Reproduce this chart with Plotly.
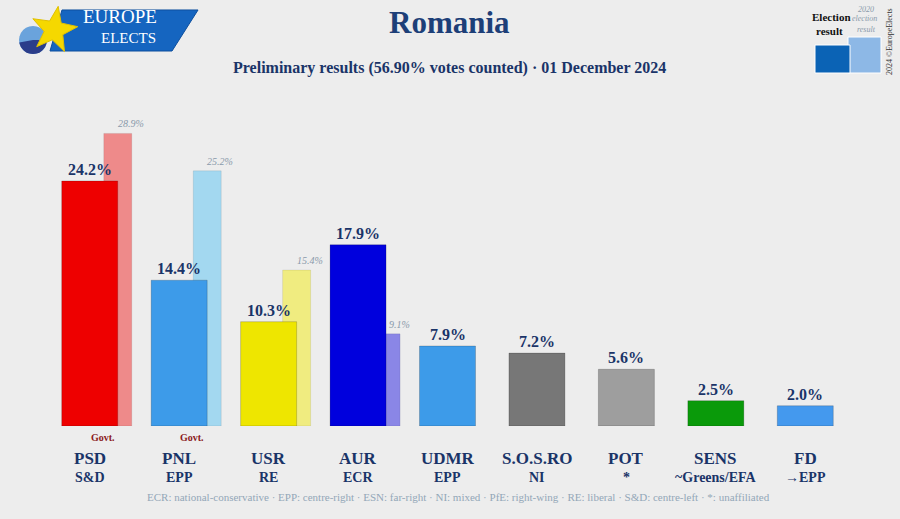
"""Romania preliminary results bar chart (Europe Elects style)"""

import math
import plotly.graph_objects as go

PARTIES = ["PSD", "PNL", "USR", "AUR", "UDMR", "S.O.S.RO", "POT", "SENS", "FD"]
GROUPS = ["S&D", "EPP", "RE", "ECR", "EPP", "NI", "*", "~Greens/EFA", "→EPP"]
RESULTS = [24.2, 14.4, 10.3, 17.9, 7.9, 7.2, 5.6, 2.5, 2.0]
PREVIOUS = [28.9, 25.2, 15.4, 9.1, None, None, None, None, None]
GOVT = [True, True, False, False, False, False, False, False, False]
COLORS = ["#ee0000", "#3d9be9", "#eee600", "#0000dd", "#3d9be9",
          "#777777", "#9e9e9e", "#0a9a0a", "#4499ee"]
PREV_COLORS = ["#ee8a8a", "#a3d8f0", "#f0ec80", "#8a86e6", None,
               None, None, None, None]
FOOTER = ("ECR: national-conservative · EPP: centre-right · ESN: far-right · "
          "NI: mixed · PfE: right-wing · RE: liberal · S&D: centre-left · *: unaffiliated")

W, H = 900, 519
ML, MR, MT, MB = 45, 50, 102, 93
SERIF = "Liberation Serif"
NAVY = "#1a3468"


def px(x, y):
    """pixel position -> paper coords"""
    return (x - ML) / (W - ML - MR), (H - MB - y) / (H - MT - MB)


def path(points):
    pts = [px(x, y) for x, y in points]
    return "M " + " L ".join(f"{a:.4f},{b:.4f}" for a, b in pts) + " Z"


xs = list(range(len(PARTIES)))

fig = go.Figure()

# 2020 result bars (behind)
prev_x = [i for i in xs if PREVIOUS[i] is not None]
fig.add_trace(go.Bar(
    x=prev_x,
    y=[PREVIOUS[i] for i in prev_x],
    marker=dict(color=[PREV_COLORS[i] for i in prev_x], line=dict(width=1, color="rgba(0,0,0,0.08)")),
    width=0.313, offset=0.157,
    hoverinfo="skip",
))

# current result bars
fig.add_trace(go.Bar(
    x=xs,
    y=RESULTS,
    marker=dict(color=COLORS, line=dict(width=1, color="rgba(0,0,0,0.18)")),
    width=0.626, offset=-0.313,
    hoverinfo="skip",
))

annotations = []

for i in xs:
    annotations.append(dict(
        x=i, y=RESULTS[i], xref="x", yref="y", yanchor="bottom", yshift=1,
        text=f"<b>{RESULTS[i]:.1f}%</b>", showarrow=False,
        font=dict(family=SERIF, size=16, color=NAVY)))
    if PREVIOUS[i] is not None:
        annotations.append(dict(
            x=i, y=PREVIOUS[i], xref="x", yref="y", yanchor="bottom", yshift=2, xshift=41,
            text=f"<i>{PREVIOUS[i]:.1f}%</i>", showarrow=False,
            font=dict(family=SERIF, size=10, color="#8a9aab")))
    if GOVT[i]:
        annotations.append(dict(
            x=i, y=0, xref="x", yref="y", yanchor="middle", yshift=-11, xshift=13,
            text="<b>Govt.</b>", showarrow=False,
            font=dict(family=SERIF, size=10, color="#8b1a1a")))
    annotations.append(dict(
        x=i, y=0, xref="x", yref="y", yanchor="middle", yshift=-32,
        text=f"<b>{PARTIES[i]}</b>", showarrow=False,
        font=dict(family=SERIF, size=17, color=NAVY)))
    annotations.append(dict(
        x=i, y=0, xref="x", yref="y", yanchor="middle", yshift=-51,
        text=f"<b>{GROUPS[i]}</b>", showarrow=False,
        font=dict(family=SERIF, size=14, color=NAVY)))


def paper_text(x, y, text, size, color, **kw):
    a, b = px(x, y)
    annotations.append(dict(x=a, y=b, xref="paper", yref="paper", text=text,
                            showarrow=False, xanchor=kw.pop("xanchor", "center"),
                            yanchor="middle", font=dict(family=SERIF, size=size, color=color), **kw))


# titles and footer
paper_text(450, 22, "<b>Romania</b>", 31, "#1d3f78")
paper_text(450, 68, "<b>Preliminary results (56.90% votes counted) · 01 December 2024</b>", 16, NAVY)
paper_text(458, 497, FOOTER, 11, "#93a7b8")

# legend box top right
paper_text(831, 17, "<b>Election</b>", 11, "#111111")
paper_text(829, 31, "<b>result</b>", 11, "#111111")
paper_text(866, 9, "<i>2020</i>", 8, "#8a9aab")
paper_text(865, 19, "<i>election</i>", 8, "#8a9aab")
paper_text(866, 29, "<i>result</i>", 8, "#8a9aab")
paper_text(889, 42, "2024 ©EuropeElects", 8, "#333333", textangle=-90)

# logo text
paper_text(120, 17, "EUROPE", 19, "white")
paper_text(128, 38, "ELECTS", 15, "white")

shapes = []
x0, y0 = px(848, 37)
x1, y1 = px(881, 73)
shapes.append(dict(type="rect", xref="paper", yref="paper", x0=x0, y0=y0, x1=x1, y1=y1,
                   fillcolor="#8db8e6", line=dict(color="white", width=1)))
x0, y0 = px(815, 45)
x1, y1 = px(850, 73)
shapes.append(dict(type="rect", xref="paper", yref="paper", x0=x0, y0=y0, x1=x1, y1=y1,
                   fillcolor="#0b63b5", line=dict(color="white", width=1)))

# logo: banner, pie, star
shapes.append(dict(type="path", xref="paper", yref="paper",
                   path=path([(62, 10), (198, 10), (172, 51), (50, 51)]),
                   fillcolor="#1565c0", line=dict(color="#0d4f9e", width=1)))
shapes.append(dict(type="path", xref="paper", yref="paper",
                   path=path([(33 + 14 * math.cos(math.radians(a)), 40 - 14 * math.sin(math.radians(a)))
                              for a in range(0, 361, 15)]),
                   fillcolor="#6aa3dc", line=dict(width=0)))
shapes.append(dict(type="path", xref="paper", yref="paper",
                   path=path([(33, 40)] + [(33 + 14 * math.cos(math.radians(a)), 40 - 14 * math.sin(math.radians(a)))
                                           for a in range(190, 361, 10)]),
                   fillcolor="#2b3d8a", line=dict(width=0)))
star = []
for k in range(10):
    r = 24 if k % 2 == 0 else 10
    ang = math.radians(80 + 36 * k)
    star.append((54 + r * math.cos(ang), 30 - r * math.sin(ang)))
shapes.append(dict(type="path", xref="paper", yref="paper", path=path(star),
                   fillcolor="#f5d800", line=dict(color="#e0c000", width=1)))

fig.update_layout(
    width=W, height=H,
    margin=dict(l=ML, r=MR, t=MT, b=MB),
    paper_bgcolor="#ededed", plot_bgcolor="#ededed",
    barmode="overlay",
    showlegend=False,
    annotations=annotations,
    shapes=shapes,
    xaxis=dict(range=[-0.5, 8.5], showgrid=False, zeroline=False, showticklabels=False, fixedrange=True),
    yaxis=dict(range=[0, 32], showgrid=False, zeroline=False, showticklabels=False, fixedrange=True),
)

# drop the default page margin so the figure sits at the window's corner
fig.write_html("out.html", post_script="document.body.style.margin='0';",
               config={"displayModeBar": False})
